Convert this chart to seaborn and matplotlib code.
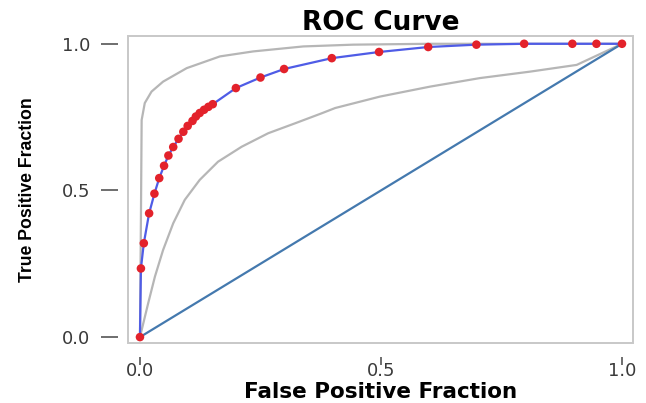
import numpy as np
import pandas as pd
from matplotlib import pyplot as plt
from matplotlib.patches import Rectangle
import seaborn as sns

# fitted ROC curve, red dots
roc_fpr = [0.0, 0.002, 0.008, 0.019, 0.030, 0.040, 0.050, 0.059, 0.069, 0.080,
           0.090, 0.099, 0.109, 0.116, 0.124, 0.133, 0.142, 0.151, 0.199, 0.250,
           0.299, 0.398, 0.496, 0.598, 0.698, 0.797, 0.897, 0.947, 1.0]
roc_tpr = [0.0, 0.234, 0.320, 0.422, 0.489, 0.542, 0.584, 0.619, 0.648, 0.676,
           0.700, 0.720, 0.737, 0.752, 0.764, 0.775, 0.785, 0.794, 0.849, 0.885,
           0.914, 0.951, 0.972, 0.989, 0.997, 1.0, 1.0, 1.0, 1.0]

# grey confidence band, upper and lower
upper_fpr = [0.0, 0.002, 0.0035, 0.010, 0.024, 0.048, 0.097, 0.166, 0.235,
             0.339, 0.442, 0.60, 1.0]
upper_tpr = [0.0, 0.40, 0.74, 0.798, 0.837, 0.871, 0.917, 0.957, 0.974,
             0.991, 0.997, 1.0, 1.0]
lower_fpr = [0.0, 0.017, 0.031, 0.048, 0.069, 0.093, 0.124, 0.162, 0.211,
             0.266, 0.322, 0.377, 0.405, 0.498, 0.602, 0.705, 0.809, 0.906, 1.0]
lower_tpr = [0.0, 0.115, 0.206, 0.297, 0.388, 0.468, 0.536, 0.598, 0.649,
             0.695, 0.729, 0.763, 0.781, 0.820, 0.854, 0.883, 0.905, 0.928, 1.0]

# chance line
diag = [0.0, 1.0]

ticks = [0.0, 0.5, 1.0]
tick_labels = ["0.0", "0.5", "1.0"]

sns.set_style("white")
plt.rcParams['font.family'] = ['DejaVu Sans']

fig = plt.figure(figsize=(6.46, 4.03), dpi=100)
ax = fig.add_axes([0.198, 0.149, 0.782, 0.762])

gray = "#b6b6b6"
sns.lineplot(x=upper_fpr, y=upper_tpr, sort=False, estimator=None,
             color=gray, lw=1.6, ax=ax)
sns.lineplot(x=lower_fpr, y=lower_tpr, sort=False, estimator=None,
             color=gray, lw=1.6, ax=ax)
sns.lineplot(x=diag, y=diag, sort=False, estimator=None,
             color="#4479ae", lw=1.6, ax=ax)
sns.lineplot(x=roc_fpr, y=roc_tpr, sort=False, estimator=None,
             color="#4f5ce6", lw=1.6, ax=ax)
sns.scatterplot(x=roc_fpr, y=roc_tpr, color="#e3222b", s=38,
                edgecolor="none", ax=ax, zorder=5)

ax.set_xlim(-0.025, 1.023)
ax.set_ylim(-0.02, 1.027)

# light frame, ticks detached from it
for side in ['top', 'right', 'left', 'bottom']:
    ax.spines[side].set_visible(False)
ax.spines['left'].set_position(('outward', 7))
ax.spines['bottom'].set_position(('outward', 10))
ax.add_patch(Rectangle((0, 0), 1, 1, transform=ax.transAxes, fill=False,
                       edgecolor="#c8c8c8", lw=1.4, clip_on=False, zorder=0))

ax.set_xticks(ticks)
ax.set_xticklabels(tick_labels)
ax.set_yticks(ticks)
ax.set_yticklabels(tick_labels)
ax.tick_params(axis='y', left=True, length=12, width=1.2, color="#555555",
               pad=8, labelsize=13, labelcolor="#3a3a3a")
ax.tick_params(axis='x', bottom=True, length=6, width=1.2, color="#555555",
               pad=-2, labelsize=13, labelcolor="#3a3a3a")

ax.set_title("ROC Curve", fontsize=19, fontweight='bold', color="black", pad=4)
ax.set_xlabel("False Positive Fraction", fontsize=15.5, fontweight='bold',
              color="black", labelpad=1)
ax.set_ylabel("True Positive Fraction", family=['Liberation Sans', 'DejaVu Sans'],
              fontsize=12.7, fontweight='bold', color="black", labelpad=18.5)

fig.savefig("out.png", dpi=100)
